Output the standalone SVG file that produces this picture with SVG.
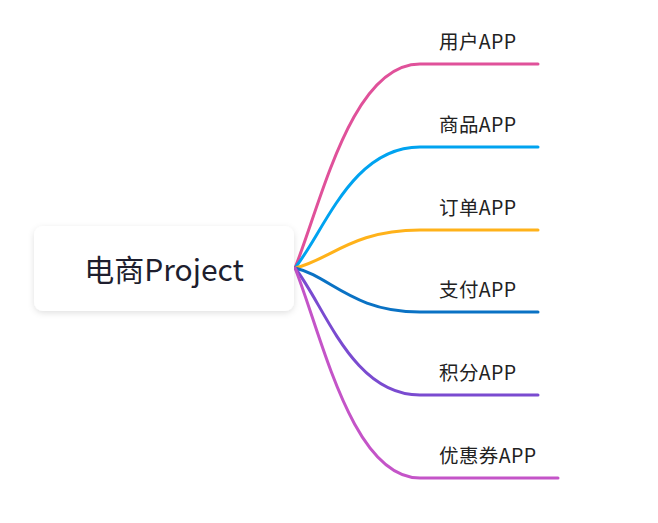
<svg xmlns="http://www.w3.org/2000/svg" width="658" height="523" viewBox="0 0 658 523">
<defs>
<filter id="sh" x="-20%" y="-30%" width="140%" height="170%">
<feDropShadow dx="0" dy="2" stdDeviation="3" flood-color="#000" flood-opacity="0.12"/>
</filter>
</defs>
<style>
.lbl{font-family:"Microsoft YaHei","Noto Sans CJK SC","Liberation Sans",sans-serif;font-size:19.5px;letter-spacing:0.4px;fill:#222;}
.root{font-family:"Microsoft YaHei","Noto Sans CJK SC","Liberation Sans",sans-serif;font-size:30px;fill:#1e1e2e;}
.br{fill:none;stroke-width:3;stroke-linecap:round;}
</style>
<rect width="658" height="523" fill="#fff"/>
<g id="connectors">
<path class="br" stroke="#e0519a" d="M295,268 C322,200 352,64 420,64 L538,64"/>
<path class="br" stroke="#00a3f0" d="M295,268 C325,230 352,147 420,147 L538,147"/>
<path class="br" stroke="#ffb21a" d="M295,268 C330,260 352,230 420,230 L538,230"/>
<path class="br" stroke="#0a72c4" d="M295,268 C330,276 352,312 420,312 L538,312"/>
<path class="br" stroke="#7a4bd0" d="M295,268 C325,306 352,395 420,395 L538,395"/>
<path class="br" stroke="#c454c8" d="M295,268 C322,336 352,478 420,478 L558,478"/>
</g>
<g id="root">
<rect x="34" y="226" width="260" height="85" rx="9" fill="#fff" filter="url(#sh)"/>
<text class="root" x="164" y="281" text-anchor="middle">电商Project</text>
</g>
<g id="n1"><text class="lbl" x="439" y="49">用户APP</text></g>
<g id="n2"><text class="lbl" x="439" y="132">商品APP</text></g>
<g id="n3"><text class="lbl" x="439" y="215">订单APP</text></g>
<g id="n4"><text class="lbl" x="439" y="297">支付APP</text></g>
<g id="n5"><text class="lbl" x="439" y="380">积分APP</text></g>
<g id="n6"><text class="lbl" x="439" y="463">优惠券APP</text></g>
</svg>
